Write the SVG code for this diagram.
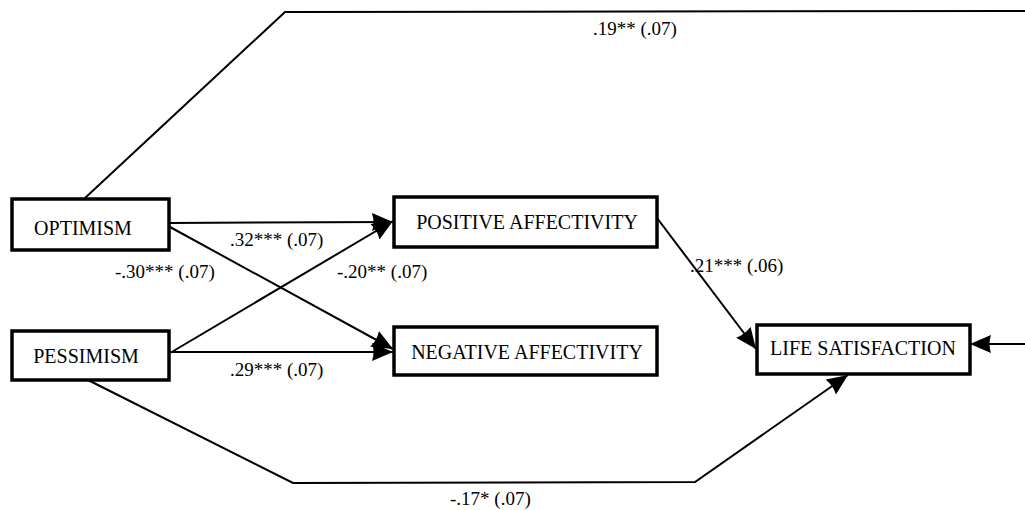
<svg xmlns="http://www.w3.org/2000/svg" width="1025" height="510" viewBox="0 0 1025 510">
<style>
.box{fill:#fff;stroke:#000;stroke-width:3.5}
.nt{font-family:"Liberation Serif","Times New Roman",serif;font-size:20px;fill:#000;text-anchor:middle}
.lb{font-family:"Liberation Serif","Times New Roman",serif;font-size:19px;fill:#000}
.ln{fill:none;stroke:#000;stroke-width:2}
</style>
<defs>
<marker id="ah" markerUnits="userSpaceOnUse" markerWidth="22" markerHeight="20" refX="21" refY="10" orient="auto">
<path d="M0,1 L21,10 L0,19 Q3,10 0,1 Z" fill="#000"/>
</marker>
</defs>
<rect width="1025" height="510" fill="#fff"/>
<g id="connectors">
<polyline class="ln" points="85,198 285,12 1025,11"/>
<line class="ln" x1="170" y1="223" x2="393" y2="222" marker-end="url(#ah)"/>
<line class="ln" x1="170" y1="353" x2="393" y2="221" marker-end="url(#ah)"/>
<line class="ln" x1="170" y1="227" x2="393" y2="349" marker-end="url(#ah)"/>
<line class="ln" x1="170" y1="352" x2="393" y2="352" marker-end="url(#ah)"/>
<line class="ln" x1="657" y1="218" x2="756" y2="349" marker-end="url(#ah)"/>
<polyline class="ln" points="88,380 293,483 695,482 848,375" marker-end="url(#ah)"/>
<line class="ln" x1="1025" y1="344" x2="970" y2="344" marker-end="url(#ah)"/>
</g>
<g id="labels">
<text class="lb" x="593" y="35">.19** (.07)</text>
<text class="lb" x="230" y="246">.32*** (.07)</text>
<text class="lb" x="115" y="278">-.30*** (.07)</text>
<text class="lb" x="337" y="278">-.20** (.07)</text>
<text class="lb" x="230" y="376">.29*** (.07)</text>
<text class="lb" x="690" y="272">.21*** (.06)</text>
<text class="lb" x="450" y="505">-.17* (.07)</text>
</g>
<g id="optimism">
<rect class="box" x="12" y="199" width="157" height="51"/>
<text class="nt" x="83" y="235">OPTIMISM</text>
</g>
<g id="pessimism">
<rect class="box" x="12" y="331" width="157" height="49"/>
<text class="nt" x="86" y="363">PESSIMISM</text>
</g>
<g id="positive">
<rect class="box" x="394" y="197" width="263" height="50"/>
<text class="nt" x="527" y="229">POSITIVE AFFECTIVITY</text>
</g>
<g id="negative">
<rect class="box" x="394" y="327" width="263" height="48"/>
<text class="nt" x="527" y="359">NEGATIVE AFFECTIVITY</text>
</g>
<g id="lifesat">
<rect class="box" x="757" y="325" width="213" height="49"/>
<text class="nt" x="863" y="355">LIFE SATISFACTION</text>
</g>
</svg>
